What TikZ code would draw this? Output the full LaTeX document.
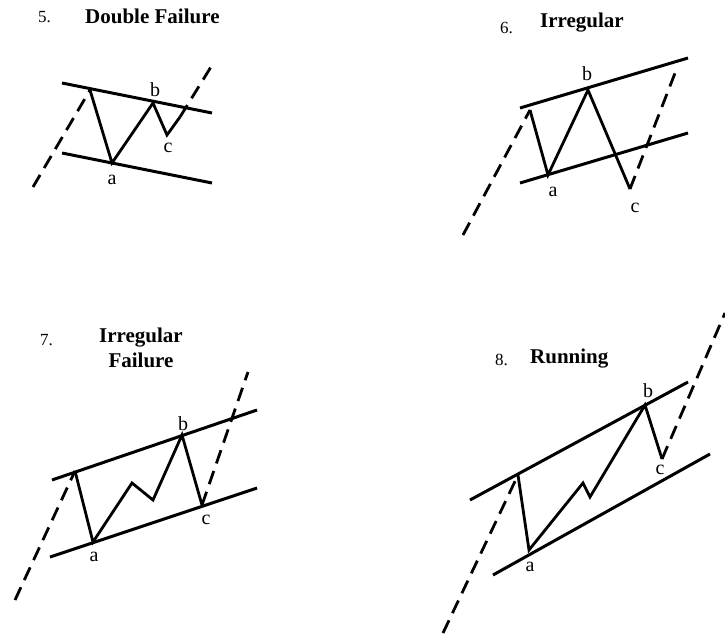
\documentclass[tikz,border=0pt]{standalone}
\usepackage{fontspec}
\setmainfont{Liberation Serif}
\begin{document}
\begin{tikzpicture}[x=1pt,y=-1pt,
  chan/.style={line width=3pt},
  wave/.style={line width=2.8pt,line join=miter,miter limit=3},
  trend/.style={line width=2.8pt,dash pattern=on 14pt off 8pt},
  lbl/.style={font=\fontsize{20}{22}\selectfont,inner sep=0pt},
  num/.style={font=\fontsize{17}{20}\selectfont,inner sep=0pt,anchor=base west},
  ttl/.style={font=\fontsize{21}{24}\selectfont\bfseries,inner sep=0pt,anchor=base west}]
\useasboundingbox (0,0) rectangle (725,635);
% ---------- Panel 5 ----------
\node[num] (n5) at (38,22) {5.};
\node[ttl] (t5) at (85,23) {Double Failure};
\coordinate (u5a) at (62,83); \coordinate (u5b) at (212,113);
\coordinate (l5a) at (62,153); \coordinate (l5b) at (212,183);
\draw[chan] (u5a) -- (u5b);
\draw[chan] (l5a) -- (l5b);
\coordinate (s5) at (90,90); \coordinate (a5) at (112,163);
\coordinate (b5) at (153,103); \coordinate (c5) at (167,135);
\coordinate (e5) at (180,117); \coordinate (d5) at (33,187);
\coordinate (f5) at (214,62);
\draw[trend] (d5) -- (s5);
\draw[wave] (s5) -- (a5) -- (b5) -- (c5) -- (e5);
\draw[trend] (e5) -- (f5);
\node[lbl] (la5) at (112,180) {a};
\node[lbl] (lb5) at (155,90) {b};
\node[lbl] (lc5) at (168,148) {c};
% ---------- Panel 6 ----------
\node[num] (n6) at (500,33) {6.};
\node[ttl] (t6) at (540,27) {Irregular};
\coordinate (u6a) at (520,108); \coordinate (u6b) at (688,58);
\coordinate (l6a) at (520,183); \coordinate (l6b) at (688,133);
\draw[chan] (u6a) -- (u6b);
\draw[chan] (l6a) -- (l6b);
\coordinate (d6) at (463,235); \coordinate (s6) at (530,110);
\coordinate (a6) at (548,175); \coordinate (b6) at (588,90);
\coordinate (c6) at (630,189); \coordinate (f6) at (677,68);
\draw[trend] (d6) -- (s6);
\draw[wave] (s6) -- (a6) -- (b6) -- (c6);
\draw[trend] (c6) -- (f6);
\node[lbl] (la6) at (553,192) {a};
\node[lbl] (lb6) at (587,74) {b};
\node[lbl] (lc6) at (635,208) {c};
% ---------- Panel 7 ----------
\node[num] (n7) at (40,345) {7.};
\node[ttl,anchor=base] (t7a) at (141,342) {Irregular};
\node[ttl,anchor=base] (t7b) at (141,367) {Failure};
\coordinate (u7a) at (52,480); \coordinate (u7b) at (257,410);
\coordinate (l7a) at (50,557); \coordinate (l7b) at (257,488);
\draw[chan] (u7a) -- (u7b);
\draw[chan] (l7a) -- (l7b);
\coordinate (d7) at (15,600); \coordinate (s7) at (75,471);
\coordinate (a7) at (93,542); \coordinate (p7) at (132,483);
\coordinate (q7) at (153,500); \coordinate (b7) at (182,435);
\coordinate (c7) at (202,505); \coordinate (f7) at (248,372);
\draw[trend] (d7) -- (s7);
\draw[wave] (s7) -- (a7) -- (p7) -- (q7) -- (b7) -- (c7);
\draw[trend] (c7) -- (f7);
\node[lbl] (la7) at (94,557) {a};
\node[lbl] (lb7) at (183,424) {b};
\node[lbl] (lc7) at (206,520) {c};
% ---------- Panel 8 ----------
\node[num] (n8) at (495,365) {8.};
\node[ttl] (t8) at (530,363) {Running};
\coordinate (u8a) at (470,500); \coordinate (u8b) at (688,382);
\coordinate (l8a) at (493,575); \coordinate (l8b) at (710,454);
\draw[chan] (u8a) -- (u8b);
\draw[chan] (l8a) -- (l8b);
\coordinate (d8) at (443,633); \coordinate (s8) at (518,475);
\coordinate (a8) at (529,550); \coordinate (p8) at (583,483);
\coordinate (q8) at (590,497); \coordinate (b8) at (645,405);
\coordinate (c8) at (662,459); \coordinate (f8) at (725,313);
\draw[trend] (d8) -- (s8);
\draw[wave] (s8) -- (a8) -- (p8) -- (q8) -- (b8) -- (c8);
\draw[trend] (c8) -- (f8);
\node[lbl] (la8) at (530,567) {a};
\node[lbl] (lb8) at (648,391) {b};
\node[lbl] (lc8) at (660,470) {c};
\end{tikzpicture}
\end{document}
